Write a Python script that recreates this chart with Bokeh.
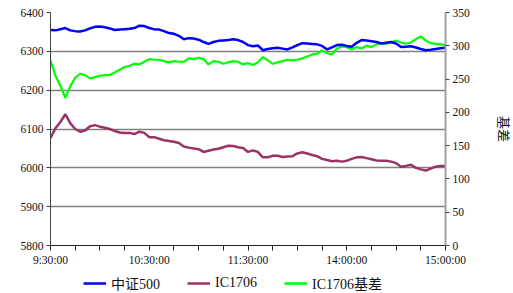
import math
from bokeh.plotting import figure
from bokeh.layouts import column
from bokeh.models import (Range1d, LinearAxis, FixedTicker, Legend, LegendItem)
from bokeh.embed import file_html
from bokeh.resources import INLINE

# trading minutes since 9:30 (11:30 and 13:00 joined)
minutes = list(range(0, 241, 3))

csi500 = [6355, 6354, 6357, 6360, 6354, 6352, 6351, 6354, 6359, 6363,
          6364, 6362, 6359, 6355, 6356, 6357, 6358, 6360, 6366, 6365,
          6360, 6357, 6356, 6352, 6347, 6345, 6340, 6331, 6334, 6333,
          6330, 6324, 6319, 6324, 6327, 6328, 6329, 6331, 6329, 6324,
          6316, 6313, 6315, 6303, 6306, 6308, 6309, 6307, 6305, 6310,
          6316, 6321, 6320, 6319, 6318, 6314, 6305, 6310, 6316, 6317,
          6314, 6312, 6322, 6329, 6328, 6326, 6324, 6320, 6322, 6324,
          6320, 6311, 6312, 6313, 6310, 6306, 6303, 6304, 6306, 6308,
          6309]

ic1706 = [6077, 6102, 6118, 6138, 6115, 6100, 6093, 6096, 6107, 6110,
          6106, 6103, 6100, 6095, 6091, 6090, 6090, 6087, 6093, 6090,
          6079, 6079, 6075, 6071, 6069, 6067, 6064, 6055, 6052, 6050,
          6048, 6041, 6044, 6047, 6049, 6053, 6057, 6056, 6053, 6051,
          6041, 6045, 6041, 6027, 6027, 6031, 6031, 6028, 6029, 6030,
          6037, 6040, 6037, 6033, 6030, 6023, 6020, 6017, 6018, 6016,
          6018, 6023, 6027, 6028, 6025, 6022, 6019, 6018, 6018, 6016,
          6012, 6003, 6005, 6008, 6000, 5996, 5993, 5998, 6003, 6005,
          6005]

basis = [278, 255, 240, 222, 239, 252, 258, 256, 251, 253,
         255, 256, 256, 260, 264, 268, 270, 273, 272, 276,
         280, 279, 279, 277, 275, 277, 276, 276, 281, 280,
         282, 280, 272, 277, 276, 273, 275, 277, 276, 272,
         274, 271, 275, 283, 278, 273, 275, 277, 279, 278,
         279, 281, 284, 287, 288, 293, 289, 287, 296, 299,
         298, 295, 298, 296, 300, 298, 302, 304, 303, 305,
         308, 305, 303, 305, 310, 314, 308, 304, 303, 302,
         301]

x_ticks = list(range(0, 241, 15))
x_labels = {0: "9:30:00", 60: "10:30:00", 120: "11:30:00", 180: "14:00:00", 240: "15:00:00"}
left_ticks = [5800, 5900, 6000, 6100, 6200, 6300, 6400]
right_ticks = [0, 50, 100, 150, 200, 250, 300, 350]
series_names = ["中证500", "IC1706", "IC1706基差"]
series_colors = ["#0000ff", "#993366", "#00ff00"]
right_title = "基差"

SERIF = "Liberation Serif, Noto Sans CJK SC"

p = figure(width=513, height=268, output_backend="svg", toolbar_location=None,
           x_range=Range1d(0, 240), y_range=Range1d(5800, 6400),
           min_border_left=50, min_border_right=61, min_border_top=12, min_border_bottom=23)
p.outline_line_color = None
p.background_fill_color = "white"
p.border_fill_color = "white"
p.extra_y_ranges = {"basis": Range1d(0, 350)}

xa = p.xaxis[0]
xa.ticker = FixedTicker(ticks=x_ticks)
xa.major_label_overrides = {t: x_labels.get(t, "") for t in x_ticks}
xa.minor_tick_line_color = None
xa.axis_line_color = "#222222"
xa.major_tick_line_color = "#222222"
xa.major_tick_in = 0
xa.major_tick_out = 5
xa.major_label_standoff = 3
xa.major_label_text_font = SERIF
xa.major_label_text_font_size = "11.5px"
xa.major_label_text_color = "#111111"

ya = p.yaxis[0]
ya.ticker = FixedTicker(ticks=left_ticks)
ya.minor_tick_line_color = None
ya.axis_line_color = "#444444"
ya.major_tick_line_color = "#444444"
ya.major_tick_in = 0
ya.major_tick_out = 4
ya.major_label_standoff = 3
ya.major_label_text_font = SERIF
ya.major_label_text_font_size = "11.5px"
ya.major_label_text_color = "#111111"

ra = LinearAxis(y_range_name="basis", ticker=FixedTicker(ticks=right_ticks))
ra.minor_tick_line_color = None
ra.axis_line_color = "#a0a0a0"
ra.axis_line_width = 2
ra.major_tick_line_color = "#444444"
ra.major_tick_in = 0
ra.major_tick_out = 4
ra.major_label_standoff = 3
ra.major_label_text_font = SERIF
ra.major_label_text_font_size = "11.5px"
ra.major_label_text_color = "#111111"
ra.axis_label = right_title
ra.axis_label_standoff = 23
ra.axis_label_text_font = SERIF
ra.axis_label_text_font_size = "13px"
ra.axis_label_text_font_style = "normal"
ra.axis_label_text_color = "#111111"
p.add_layout(ra, "right")

p.xgrid.grid_line_color = None
p.ygrid.ticker = FixedTicker(ticks=left_ticks)
p.ygrid.grid_line_color = "#808080"
p.ygrid.grid_line_width = 1.5

p.line(minutes, basis, y_range_name="basis", line_color=series_colors[2], line_width=2.2)
p.line(minutes, ic1706, line_color=series_colors[1], line_width=2.5)
p.line(minutes, csi500, line_color=series_colors[0], line_width=2.5)

# legend strip below the chart (swatch renderers hold no visible data)
lg = figure(width=513, height=25, output_backend="svg", toolbar_location=None,
            x_range=Range1d(0, 1), y_range=Range1d(0, 1),
            x_axis_type=None, y_axis_type=None,
            min_border_left=0, min_border_right=0, min_border_top=0, min_border_bottom=0)
lg.outline_line_color = None
lg.grid.visible = False
swatches = [lg.line(x=[float("nan")], y=[float("nan")], line_color=c, line_width=2.5)
            for c in series_colors]

legend = Legend(items=[LegendItem(label=n, renderers=[r]) for n, r in zip(series_names, swatches)],
                orientation="horizontal", location=(33, 0),
                border_line_color=None, background_fill_alpha=0,
                glyph_width=23, glyph_height=14, label_standoff=5, spacing=27,
                padding=0, margin=0,
                label_text_font=SERIF, label_text_font_size="14px",
                label_text_color="#111111")
lg.add_layout(legend)

layout = column(p, lg, spacing=0)
open("out.html", "w").write(file_html(layout, INLINE))
